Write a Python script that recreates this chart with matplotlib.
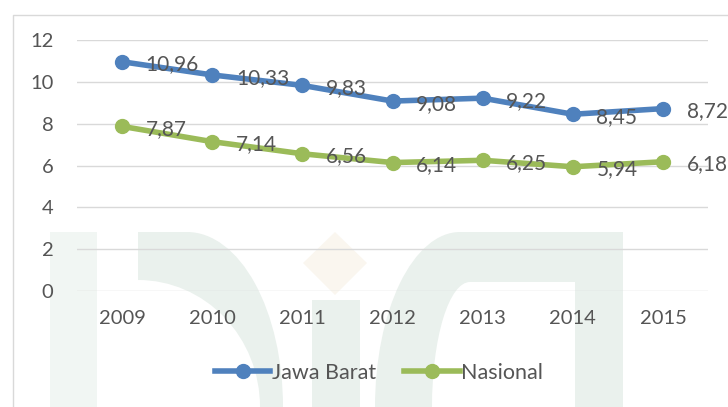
import matplotlib.pyplot as plt
from matplotlib.lines import Line2D
from matplotlib.patches import Rectangle, Polygon, Ellipse

years = ["2009", "2010", "2011", "2012", "2013", "2014", "2015"]
jawa_barat = [10.96, 10.33, 9.83, 9.08, 9.22, 8.45, 8.72]
nasional = [7.87, 7.14, 6.56, 6.14, 6.25, 5.94, 6.18]
series_names = ["Jawa Barat", "Nasional"]

plt.rcParams['font.family'] = ['Lato', 'DejaVu Sans']
text_color = "#555555"
blue = "#4F81BD"
green = "#9BBB59"
wm_green = "#EAF1ED"
wm_tan = "#FAF6EF"

fig = plt.figure(figsize=(7.28, 4.07), dpi=100)

# faint watermark behind the chart, drawn in pixel coords
bg = fig.add_axes([0, 0, 1, 1], zorder=0)
bg.set_xlim(0, 728)
bg.set_ylim(407, 0)
bg.axis("off")
# left curved band
bg.add_patch(Rectangle((138, 232), 49, 175, color=wm_green, lw=0))
bg.add_patch(Ellipse((187, 407), 192, 350, color=wm_green, lw=0))
bg.add_patch(Ellipse((138, 407), 244, 254, color="white", lw=0))
bg.add_patch(Rectangle((90, 232), 48, 175, color="white", lw=0))
bg.add_patch(Rectangle((50, 232), 47, 175, color="#F1F6F3", lw=0))
# "i"
bg.add_patch(Polygon([(335, 232), (367, 263), (335, 295), (303, 263)],
                     color=wm_tan, lw=0))
bg.add_patch(Rectangle((312, 300), 48, 107, color=wm_green, lw=0))
# right arch
bg.add_patch(Rectangle((460, 232), 163, 175, color=wm_green, lw=0))
bg.add_patch(Ellipse((460, 407), 170, 350, color=wm_green, lw=0))
bg.add_patch(Rectangle((470, 282), 105, 125, color="white", lw=0))
bg.add_patch(Ellipse((470, 407), 76, 250, color="white", lw=0))
# chart area border (left and top)
bg.plot([13, 13, 728], [407, 15, 15], color="#D9D9D9", lw=1)

ax = fig.add_axes([0.1058, 0.285, 0.8668, 0.6167], zorder=1)
ax.patch.set_alpha(0)

x = list(range(len(years)))
ax.plot(x, jawa_barat, color=blue, lw=4, marker="o", ms=10,
        solid_capstyle="round", label=series_names[0])
ax.plot(x, nasional, color=green, lw=4, marker="o", ms=10,
        solid_capstyle="round", label=series_names[1])

# labels to the right of each point, decimal comma
for vals in (jawa_barat, nasional):
    for i, v in enumerate(vals):
        ax.annotate(f"{v:.2f}".replace(".", ","), (i, v), xytext=(17, -2),
                    textcoords="offset points", ha="left", va="center",
                    fontsize=15, color=text_color)

ax.set_xlim(-0.5, 6.5)
ax.set_ylim(0, 12)
ax.set_yticks(range(0, 13, 2))
ax.set_xticks(x)
ax.set_xticklabels(years)
ax.yaxis.grid(True, color="#D9D9D9", lw=1)
ax.set_axisbelow(True)
for s in ax.spines.values():
    s.set_visible(False)
ax.tick_params(length=0, labelsize=14.5, colors=text_color)
ax.tick_params(axis="x", pad=14)
ax.tick_params(axis="y", pad=17)
for ln in ax.lines:
    ln.set_clip_on(False)

handles = [Line2D([], [], color=blue, lw=4, marker="o", ms=10),
           Line2D([], [], color=green, lw=4, marker="o", ms=10)]
fig.legend(handles, series_names, loc="center", bbox_to_anchor=(0.52, 0.0835),
           ncol=2, frameon=False, fontsize=15.5, handlelength=2.6,
           handletextpad=0.05, columnspacing=1.3, labelcolor=text_color)

fig.savefig("out.png", dpi=100)
